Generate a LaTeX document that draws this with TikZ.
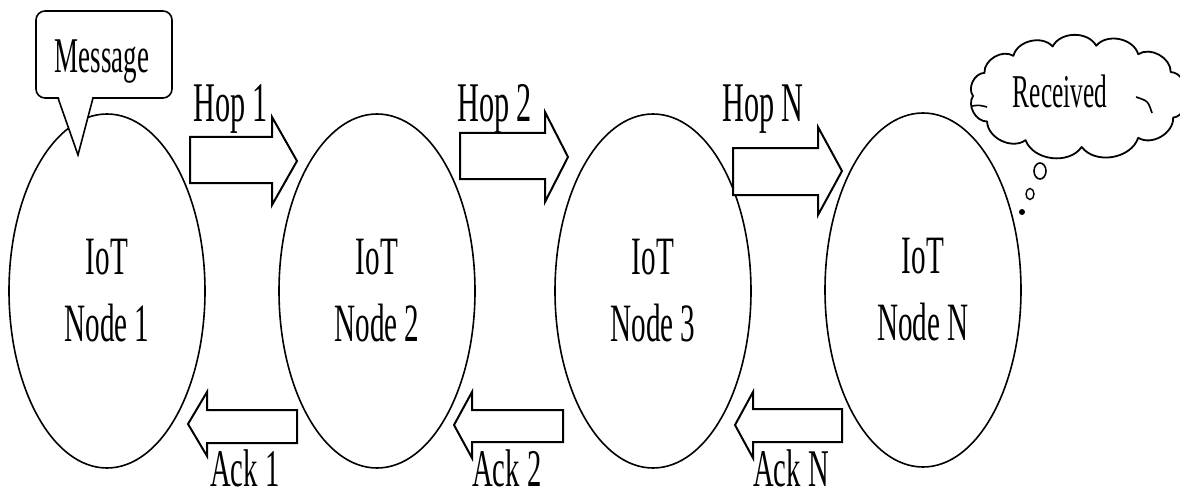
\documentclass[tikz,border=0pt]{standalone}
\usepackage{fontspec}
\setmainfont{Liberation Serif}
\newfontfamily\cf[FakeStretch=0.54]{Liberation Serif}
\usetikzlibrary{shapes.geometric}
\begin{document}
\begin{tikzpicture}[x=1pt,y=-1pt,
  iot/.style={ellipse,draw,line width=1.6pt,minimum width=196pt,minimum height=354pt,inner sep=0pt,align=center,font=\cf\fontsize{54}{67}\selectfont},
  blk/.style={draw,line width=2pt,fill=white,line join=miter},
  lbl/.style={inner sep=0pt,anchor=base west,font=\cf\fontsize{56}{60}\selectfont},
  acklbl/.style={lbl,font=\cf\fontsize{53}{60}\selectfont},
  small/.style={inner sep=0pt,anchor=base,font=\cf\fontsize{50}{60}\selectfont},
  pf/.style={bend right=62},
]
\useasboundingbox (0,0) rectangle (1180,492);

% IoT nodes
\node[iot] (n1) at (107,291) {IoT\\Node 1};
\node[iot] (n2) at (377,291) {IoT\\Node 2};
\node[iot] (n3) at (653,291) {IoT\\Node 3};
\node[iot] (nN) at (923,290) {IoT\\Node N};

% Hop arrows
\draw[blk] (190,137) -- (272,137) -- (272,117) -- (297,161) -- (272,205) -- (272,183) -- (190,183) -- cycle;
\draw[blk] (460,133) -- (545,133) -- (545,112) -- (568,157) -- (545,202) -- (545,179) -- (460,179) -- cycle;
\draw[blk] (733,148) -- (818,148) -- (818,127) -- (842,171) -- (818,215) -- (818,195) -- (733,195) -- cycle;

% Ack arrows
\draw[blk] (297,410) -- (207,410) -- (207,392) -- (188,424) -- (207,456) -- (207,443) -- (297,443) -- cycle;
\draw[blk] (563,410) -- (472,410) -- (472,392) -- (454,425) -- (472,458) -- (472,442) -- (563,442) -- cycle;
\draw[blk] (842,409) -- (753,409) -- (753,392) -- (735,425) -- (753,458) -- (753,442) -- (842,442) -- cycle;

% labels
\node[lbl] (h1) at (193,122) {Hop 1};
\node[lbl] (h2) at (457,122) {Hop 2};
\node[lbl] (hN) at (722,122) {Hop N};
\node[acklbl] (a1) at (210,486) {Ack 1};
\node[acklbl] (a2) at (472,486) {Ack 2};
\node[acklbl] (aN) at (753,486) {Ack N};

% Message callout
\node[draw,line width=1.6pt,rounded corners=9pt,minimum width=136pt,minimum height=87pt,fill=white,inner sep=0pt] (msg) at (104,54.5) {};
\fill[white] (58.6,96) -- (78,155) -- (92.4,96) -- cycle;
\draw[line width=1.6pt,line join=miter] (58,98) -- (78,155) -- (93,98);
\node[small] (msgt) at (102,73) {Message};

% Cloud
\foreach \t [count=\i] in {0,28,55,80,104,128,153,180,210,240,272,305,335}
  \coordinate (c\i) at ({1078+105*cos(\t)},{96-51*sin(\t)});
\draw[line width=1.8pt,fill=white,line join=round]
  (c1) to[pf] (c2) to[pf] (c3) to[pf] (c4) to[pf] (c5) to[pf] (c6) to[pf] (c7)
  to[pf] (c8) to[pf] (c9) to[pf] (c10) to[pf] (c11) to[pf] (c12) to[pf] (c13) to[pf] (c1);
\draw[line width=1.6pt] (972,106) .. controls (979,105) .. (987,107);
\draw[line width=1.6pt] (1136,97) .. controls (1148,101) .. (1152,113);
\node[small,font=\cf\fontsize{47}{60}\selectfont] (clt) at (1060,108) {Received};
\draw[line width=1.6pt] (1040,171) ellipse [x radius=6, y radius=8];
\draw[line width=1.4pt] (1030,194) ellipse [x radius=4, y radius=5.5];
\fill (1022,212) circle (3);
\end{tikzpicture}
\end{document}
